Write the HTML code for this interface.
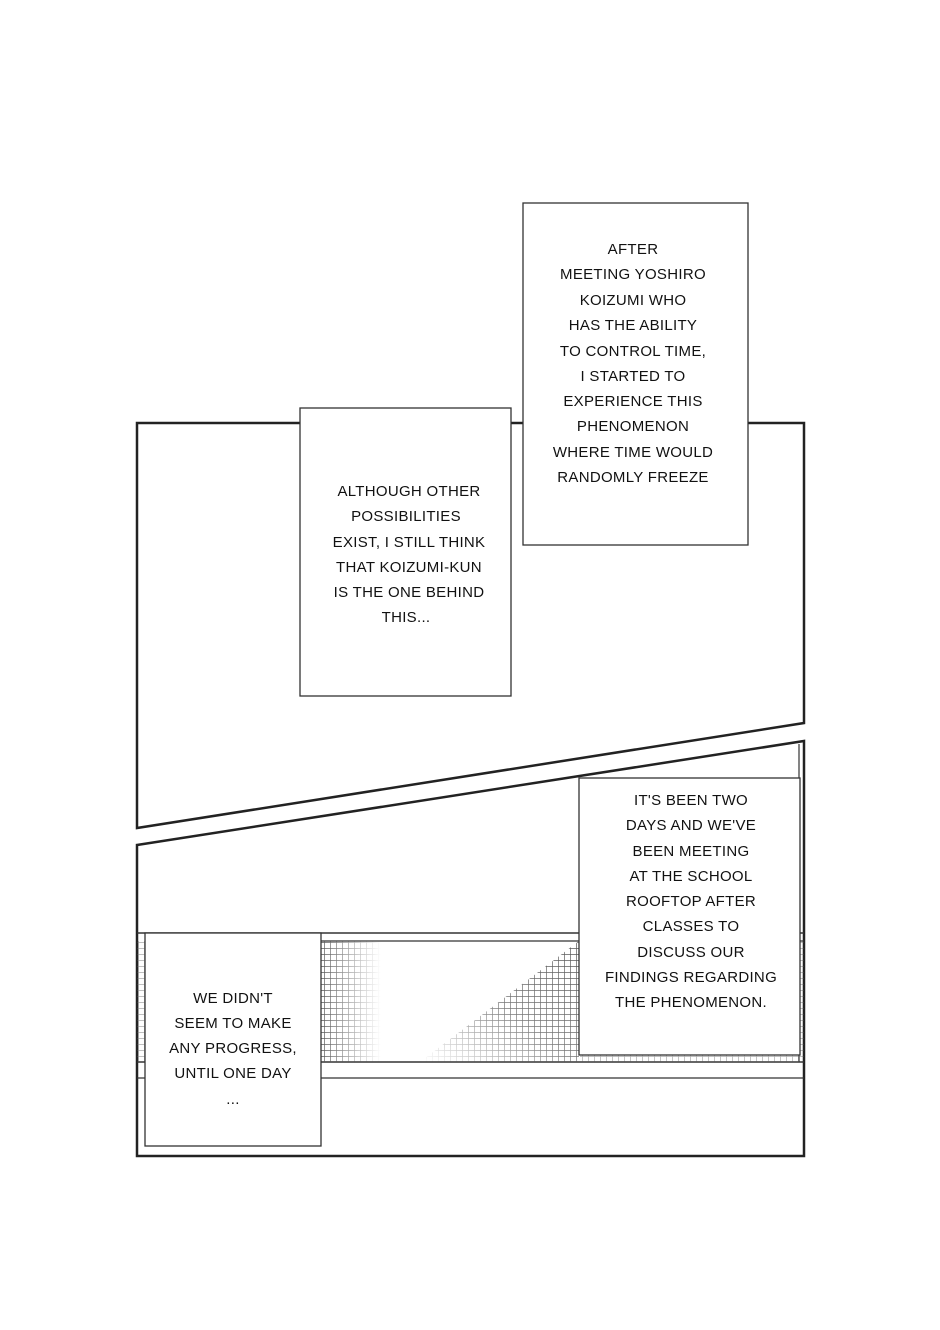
<!DOCTYPE html>
<html><head><meta charset="utf-8"><style>
html,body{margin:0;padding:0;background:#fff;width:940px;height:1330px;overflow:hidden}
svg{display:block}
text{font-family:"Liberation Sans",sans-serif;font-size:15px;fill:#111;text-anchor:middle;letter-spacing:0.3px}
</style></head><body>
<svg width="940" height="1330" viewBox="0 0 940 1330" xmlns="http://www.w3.org/2000/svg">
<defs>
<pattern id="grid" width="6" height="6" patternUnits="userSpaceOnUse">
<path d="M0 0.5H6M0.5 0V6" stroke="#555" stroke-width="0.7" fill="none"/>
</pattern>
<linearGradient id="g1" x1="0" y1="0" x2="1" y2="0">
<stop offset="0" stop-color="#fff" stop-opacity="1"/><stop offset="1" stop-color="#fff" stop-opacity="0"/>
</linearGradient>
<linearGradient id="g2" x1="0" y1="1" x2="1" y2="0">
<stop offset="0" stop-color="#fff" stop-opacity="0"/><stop offset="0.5" stop-color="#fff" stop-opacity="0.8"/><stop offset="1" stop-color="#fff" stop-opacity="1"/>
</linearGradient>
<mask id="m1"><rect x="321" y="941" width="60" height="121" fill="url(#g1)"/></mask>
<mask id="m2"><polygon points="420,1062 579,941 579,1062" fill="url(#g2)"/></mask>
</defs>
<polygon points="137,423 804,423 804,723 137,828" fill="#fff" stroke="#222" stroke-width="2.5"/>
<polygon points="137,845 804,741 804,1156 137,1156" fill="#fff" stroke="#222" stroke-width="2.5"/>
<line x1="137" y1="933" x2="804" y2="933" stroke="#333" stroke-width="1.5"/>
<line x1="321" y1="941" x2="804" y2="941" stroke="#333" stroke-width="1.2"/>
<line x1="137" y1="1062" x2="804" y2="1062" stroke="#333" stroke-width="1.5"/>
<line x1="137" y1="1078" x2="804" y2="1078" stroke="#333" stroke-width="1.2"/>
<line x1="799" y1="744" x2="799" y2="1062" stroke="#333" stroke-width="1.2"/>
<rect x="321" y="941" width="60" height="121" fill="url(#grid)" mask="url(#m1)"/>
<rect x="420" y="941" width="160" height="121" fill="url(#grid)" mask="url(#m2)"/>
<rect x="137" y="941" width="8" height="121" fill="url(#grid)" opacity="0.5"/>
<rect x="800" y="941" width="4" height="121" fill="url(#grid)" opacity="0.5"/>
<rect x="580" y="1055" width="220" height="7" fill="url(#grid)" opacity="0.5"/>

<rect x="523" y="203" width="225" height="342" fill="#fff" stroke="#333" stroke-width="1.3"/>
<text x="633" y="254">AFTER</text>
<text x="633" y="279">MEETING YOSHIRO</text>
<text x="633" y="305">KOIZUMI WHO</text>
<text x="633" y="330">HAS THE ABILITY</text>
<text x="633" y="356">TO CONTROL TIME,</text>
<text x="633" y="381">I STARTED TO</text>
<text x="633" y="406">EXPERIENCE THIS</text>
<text x="633" y="431">PHENOMENON</text>
<text x="633" y="457">WHERE TIME WOULD</text>
<text x="633" y="482">RANDOMLY FREEZE</text>

<rect x="300" y="408" width="211" height="288" fill="#fff" stroke="#333" stroke-width="1.3"/>
<text x="409" y="496">ALTHOUGH OTHER</text>
<text x="406" y="521">POSSIBILITIES</text>
<text x="409" y="547">EXIST, I STILL THINK</text>
<text x="409" y="572">THAT KOIZUMI-KUN</text>
<text x="409" y="597">IS THE ONE BEHIND</text>
<text x="406" y="622">THIS...</text>

<rect x="579" y="778" width="221" height="277" fill="#fff" stroke="#333" stroke-width="1.3"/>
<text x="691" y="805">IT'S BEEN TWO</text>
<text x="691" y="830">DAYS AND WE'VE</text>
<text x="691" y="856">BEEN MEETING</text>
<text x="691" y="881">AT THE SCHOOL</text>
<text x="691" y="906">ROOFTOP AFTER</text>
<text x="691" y="931">CLASSES TO</text>
<text x="691" y="957">DISCUSS OUR</text>
<text x="691" y="982">FINDINGS REGARDING</text>
<text x="691" y="1007">THE PHENOMENON.</text>

<rect x="145" y="933" width="176" height="213" fill="#fff" stroke="#333" stroke-width="1.3"/>
<text x="233" y="1003">WE DIDN'T</text>
<text x="233" y="1028">SEEM TO MAKE</text>
<text x="233" y="1053">ANY PROGRESS,</text>
<text x="233" y="1078">UNTIL ONE DAY</text>
<text x="233" y="1104">...</text>
</svg>
</body></html>
